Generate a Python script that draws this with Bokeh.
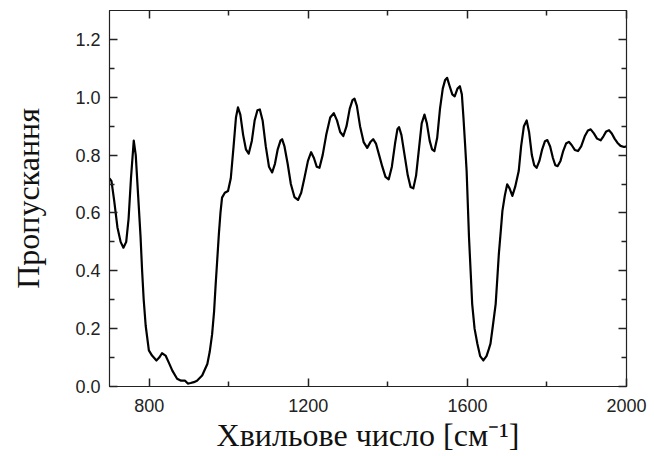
from bokeh.plotting import figure
from bokeh.models import LinearAxis, FixedTicker, PrintfTickFormatter, Range1d, CustomJSTickFormatter
from bokeh.embed import file_html
from bokeh.resources import INLINE

wavenumber = [700, 705, 712, 720, 728, 735, 742, 748, 754, 761, 766, 772, 778, 782, 786, 791, 799, 807, 818, 825,
              832, 841, 850, 858, 870, 880, 890, 897, 904, 912, 920, 933, 946, 952, 958, 963, 967, 971, 975, 979,
              983, 990, 998, 1005, 1012, 1018, 1023, 1029, 1036, 1043, 1050, 1058, 1065, 1072, 1078, 1085, 1093, 1101,
              1109, 1116, 1123, 1130, 1134, 1140, 1148, 1156, 1165, 1174, 1182, 1190, 1199, 1207, 1214, 1221, 1228,
              1236, 1245, 1255, 1264, 1272, 1280, 1288, 1296, 1304, 1311, 1316, 1322, 1330, 1339, 1348, 1356, 1363,
              1370, 1378, 1386, 1394, 1402, 1410, 1418, 1424, 1428, 1434, 1442, 1450, 1457, 1464, 1471, 1478, 1485,
              1492, 1498, 1505, 1511, 1517, 1524, 1531, 1538, 1544, 1549, 1555, 1562, 1568, 1575, 1581, 1586, 1590,
              1594, 1598, 1604, 1608, 1612, 1618, 1625, 1632, 1640, 1648, 1654, 1658, 1664, 1671, 1675, 1679, 1684,
              1688, 1694, 1700, 1706, 1713, 1720, 1729, 1735, 1742, 1749, 1755, 1762, 1768, 1774, 1781, 1788, 1795,
              1801, 1808, 1815, 1821, 1827, 1834, 1841, 1848, 1855, 1862, 1870, 1878, 1886, 1895, 1903, 1910, 1918,
              1926, 1935, 1942, 1949, 1956, 1963, 1970, 1977, 1985, 1994, 2000]
transmission = [0.72, 0.71, 0.64, 0.55, 0.50, 0.48, 0.50, 0.58, 0.72, 0.85, 0.80, 0.66, 0.52, 0.40, 0.30, 0.21, 0.125,
                0.107, 0.09, 0.10, 0.115, 0.107, 0.08, 0.055, 0.027, 0.02, 0.02, 0.01, 0.012, 0.015, 0.02, 0.038,
                0.078, 0.12, 0.18, 0.26, 0.354, 0.44, 0.527, 0.60, 0.653, 0.67, 0.676, 0.72, 0.83, 0.93, 0.965, 0.94,
                0.87, 0.82, 0.805, 0.85, 0.92, 0.955, 0.958, 0.92, 0.83, 0.76, 0.74, 0.77, 0.82, 0.85, 0.855, 0.83,
                0.77, 0.70, 0.655, 0.645, 0.67, 0.72, 0.78, 0.81, 0.79, 0.76, 0.756, 0.80, 0.87, 0.93, 0.945, 0.92,
                0.88, 0.866, 0.90, 0.96, 0.99, 0.995, 0.97, 0.90, 0.845, 0.825, 0.845, 0.855, 0.84, 0.80, 0.76,
                0.725, 0.716, 0.76, 0.84, 0.89, 0.897, 0.87, 0.80, 0.73, 0.69, 0.685, 0.73, 0.82, 0.91, 0.94, 0.91,
                0.85, 0.82, 0.814, 0.86, 0.96, 1.03, 1.06, 1.067, 1.04, 1.01, 1.003, 1.03, 1.038, 1.01, 0.93, 0.84,
                0.745, 0.515, 0.40, 0.285, 0.20, 0.148, 0.105, 0.09, 0.105, 0.13, 0.148, 0.21, 0.285, 0.37, 0.458,
                0.54, 0.607, 0.66, 0.699, 0.685, 0.659, 0.69, 0.745, 0.83, 0.90, 0.92, 0.88, 0.80, 0.765, 0.756,
                0.78, 0.82, 0.848, 0.852, 0.83, 0.79, 0.765, 0.762, 0.78, 0.815, 0.84, 0.846, 0.835, 0.818, 0.814,
                0.83, 0.865, 0.885, 0.889, 0.875, 0.857, 0.851, 0.865, 0.882, 0.886, 0.875, 0.857, 0.843, 0.832,
                0.828, 0.83]

x_major_ticks = [800, 1200, 1600, 2000]
x_minor_ticks = [1000, 1400, 1800]
y_major_ticks = [0.0, 0.2, 0.4, 0.6, 0.8, 1.0, 1.2]
y_minor_ticks = [0.1, 0.3, 0.5, 0.7, 0.9, 1.1]

x_label = "Хвильове число [см⁻¹]"
y_label = "Пропускання"

X0, X1 = 700, 2000
Y0, Y1 = 0, 1.3

p = figure(width=654, height=456, output_backend="svg", toolbar_location=None,
           x_range=Range1d(X0, X1), y_range=Range1d(Y0, Y1),
           min_border_left=109, min_border_right=28, min_border_top=10, min_border_bottom=70)

p.xgrid.grid_line_color = None
p.ygrid.grid_line_color = None
p.outline_line_color = "#222222"
p.outline_line_width = 1.2
p.background_fill_color = "white"
p.border_fill_color = "white"

try:
    p.spline(wavenumber, transmission, line_color="black", line_width=2.2, tension=0.5)
except Exception:
    p.line(wavenumber, transmission, line_color="black", line_width=2.2, line_join="round")

xa = p.xaxis[0]
xa.ticker = FixedTicker(ticks=x_major_ticks, minor_ticks=x_minor_ticks)
ya = p.yaxis[0]
ya.ticker = FixedTicker(ticks=y_major_ticks, minor_ticks=y_minor_ticks)
ya.formatter = PrintfTickFormatter(format="%.1f")

blank = CustomJSTickFormatter(code="return ''")
top = LinearAxis(ticker=FixedTicker(ticks=x_major_ticks, minor_ticks=x_minor_ticks), formatter=blank)
right = LinearAxis(ticker=FixedTicker(ticks=y_major_ticks, minor_ticks=y_minor_ticks), formatter=blank)
p.add_layout(top, "above")
p.add_layout(right, "right")

for ax in (xa, ya, top, right):
    ax.major_tick_in = 8
    ax.major_tick_out = 0
    ax.minor_tick_in = 5
    ax.minor_tick_out = 0
    ax.major_tick_line_width = 1.5
    ax.minor_tick_line_width = 1.5
    ax.axis_line_color = "#222222"
    ax.major_tick_line_color = "#222222"
    ax.minor_tick_line_color = "#222222"
    ax.major_label_text_font = "Liberation Sans"
    ax.major_label_text_font_size = "18px"
    ax.major_label_text_color = "#222222"
    ax.axis_label_text_font = "Liberation Serif"
    ax.axis_label_text_font_style = "normal"
    ax.axis_label_text_color = "#111111"

for ax in (top, right):
    ax.major_label_standoff = 0

xa.axis_label = x_label
xa.axis_label_text_font_size = "32px"
xa.major_label_standoff = 12
xa.axis_label_standoff = 2
ya.axis_label = y_label
ya.axis_label_text_font_size = "32px"
ya.major_label_standoff = 9
ya.axis_label_standoff = 26

open("out.html", "w").write(file_html(p, INLINE))
